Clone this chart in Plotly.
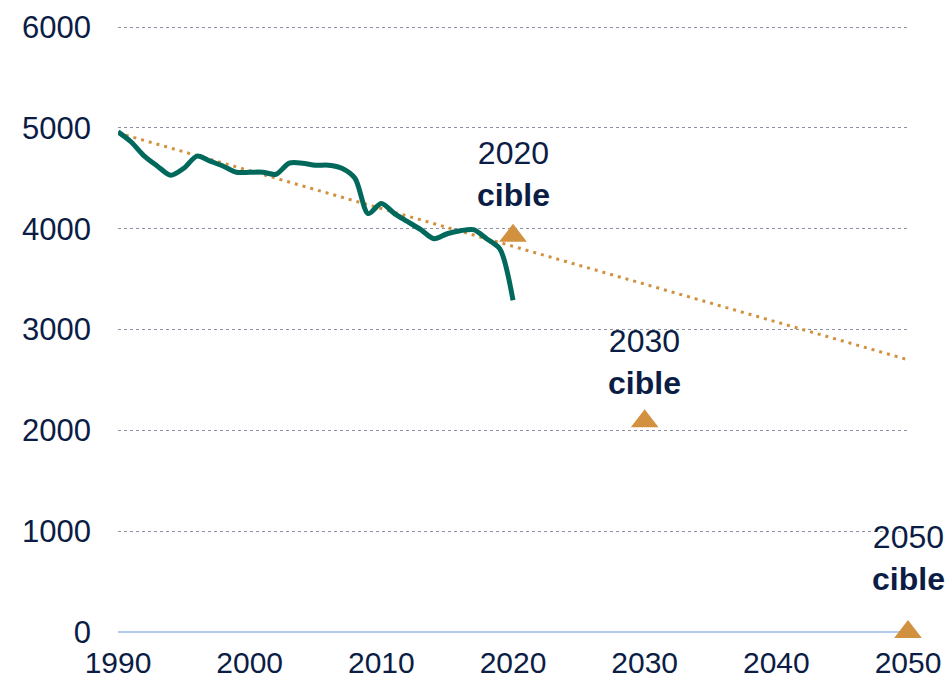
import plotly.graph_objects as go

years = list(range(1990, 2021))
emissions = [4960, 4860, 4720, 4620, 4530, 4600, 4720, 4670, 4620, 4560,
             4560, 4560, 4540, 4650, 4650, 4630, 4630, 4600, 4500, 4150,
             4250, 4150, 4070, 3990, 3900, 3950, 3980, 3990, 3900, 3800,
             3290]

trend_years = [1990, 2050]
trend_values = [4950, 2700]

target_years = [2020, 2030, 2050]
target_values = [3930, 2090, 0]
target_labels = ["2020<br><b>cible</b>", "2030<br><b>cible</b>", "2050<br><b>cible</b>"]
label_shifts = [21, 18, 33]

x_ticks = [1990, 2000, 2010, 2020, 2030, 2040, 2050]
y_ticks = [0, 1000, 2000, 3000, 4000, 5000, 6000]

text_color = "#0B1D45"
orange = "#D1913F"
teal = "#00695C"

fig = go.Figure()
fig.add_trace(go.Scatter(x=trend_years, y=trend_values, mode="lines",
                         line=dict(color=orange, width=3, dash="3px,5px"),
                         hoverinfo="skip", cliponaxis=False))
fig.add_trace(go.Scatter(x=years, y=emissions, mode="lines",
                         line=dict(color=teal, width=5, shape="spline", smoothing=0.8),
                         cliponaxis=False))
fig.add_trace(go.Scatter(x=target_years, y=target_values, mode="markers",
                         marker=dict(symbol="triangle-up", size=24, color=orange),
                         cliponaxis=False))

for x, y, t, s in zip(target_years, target_values, target_labels, label_shifts):
    fig.add_annotation(x=x, y=y, text=t, showarrow=False, yanchor="bottom",
                       yshift=s, font=dict(size=32, color=text_color,
                                           family="Arial, Liberation Sans, sans-serif"),
                       align="center")

fig.update_layout(
    width=950, height=684,
    margin=dict(l=118, r=42, t=22, b=52),
    plot_bgcolor="white", paper_bgcolor="white",
    showlegend=False,
    font=dict(family="Arial, Liberation Sans, sans-serif", color=text_color, size=30),
)
fig.update_xaxes(range=[1990, 2050], tickvals=x_ticks, showgrid=False,
                 zeroline=False, showline=False, ticks="", ticklabelstandoff=10,
                 automargin=False,
                 tickfont=dict(size=30, color=text_color))
fig.update_yaxes(range=[0, 6050], tickvals=y_ticks, showgrid=True,
                 gridcolor="#8C91A3", griddash="dot", gridwidth=1.2,
                 zeroline=True, zerolinecolor="#B4CBEE", zerolinewidth=2,
                 showline=False, ticks="", ticklabelstandoff=26,
                 automargin=False,
                 tickfont=dict(size=31, color=text_color))

fig.write_html("out.html", config={"displayModeBar": False},
               post_script="document.body.style.margin='0';document.body.style.overflow='hidden';")
